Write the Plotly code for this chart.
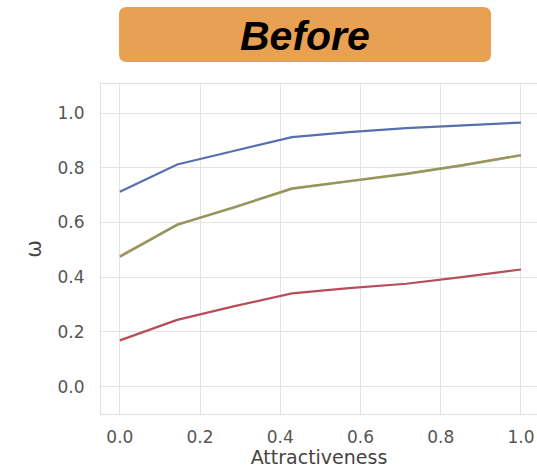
import plotly.graph_objects as go

# Attractiveness sampled on eight evenly spaced levels
attractiveness = [0.0, 0.143, 0.286, 0.429, 0.571, 0.714, 0.857, 1.0]

# omega per group
omega_blue = [0.712, 0.812, 0.862, 0.912, 0.930, 0.945, 0.955, 0.965]
omega_orange = [0.476, 0.592, 0.656, 0.724, 0.751, 0.778, 0.810, 0.846]
omega_green = [0.474, 0.591, 0.655, 0.723, 0.750, 0.777, 0.809, 0.845]
omega_red = [0.169, 0.244, 0.294, 0.341, 0.360, 0.376, 0.401, 0.428]

x_ticks = [0.0, 0.2, 0.4, 0.6, 0.8, 1.0]
y_ticks = [0.0, 0.2, 0.4, 0.6, 0.8, 1.0]

W, H = 537, 468
L, R, T, B = 101, 0, 84, 54
pw, ph = W - L - R, H - T - B


def px_to_paper(px, py):
    return (px - L) / pw, (H - B - py) / ph


fig = go.Figure()

series = [
    (omega_red, "#B84D5A", 1.0, 2.2),
    (omega_orange, "#DD8452", 1.0, 2.4),
    (omega_green, "#55A868", 0.55, 2.4),
    (omega_blue, "#5570B0", 1.0, 2.2),
]
for ys, color, op, w in series:
    fig.add_trace(go.Scatter(
        x=attractiveness, y=ys, mode="lines",
        line=dict(color=color, width=w), opacity=op,
        showlegend=False, hoverinfo="skip",
    ))

# rounded title banner
x0, y0 = px_to_paper(119, 62)
x1, y1 = px_to_paper(491, 7)
rx, ry = 8 / pw, 8 / ph
path = (
    f"M {x0 + rx},{y0} L {x1 - rx},{y0} Q {x1},{y0} {x1},{y0 + ry} "
    f"L {x1},{y1 - ry} Q {x1},{y1} {x1 - rx},{y1} "
    f"L {x0 + rx},{y1} Q {x0},{y1} {x0},{y1 - ry} "
    f"L {x0},{y0 + ry} Q {x0},{y0} {x0 + rx},{y0} Z"
)
fig.add_shape(type="path", path=path, xref="paper", yref="paper",
              fillcolor="#E8A052", line=dict(width=0), layer="above")

tx, ty = px_to_paper(305, 36)
fig.add_annotation(
    x=tx, y=ty, xref="paper", yref="paper", text="<b><i>Before</i></b>",
    showarrow=False, xanchor="center", yanchor="middle",
    font=dict(family="Liberation Sans", size=41, color="#000000"),
)

axis_common = dict(
    showgrid=True, gridcolor="#e4e4e4", gridwidth=1,
    showline=True, linecolor="#e0e0e0", linewidth=1, mirror=True,
    zeroline=False, ticks="",
    tickfont=dict(family="DejaVu Sans", size=17, color="#555555"),
)

fig.update_layout(
    width=W, height=H,
    margin=dict(l=L, r=R, t=T, b=B),
    paper_bgcolor="white", plot_bgcolor="white",
    xaxis=dict(
        range=[-0.047, 1.04], tickvals=x_ticks,
        ticktext=[f"{v:.1f}" for v in x_ticks],
        title=dict(text="Attractiveness", standoff=5,
                   font=dict(family="DejaVu Sans", size=19, color="#444444")),
        ticklabelstandoff=8,
        **axis_common,
    ),
    yaxis=dict(
        range=[-0.1, 1.106], tickvals=y_ticks,
        ticktext=[f"{v:.1f}" for v in y_ticks],
        title=dict(text="ω", standoff=10,
                   font=dict(family="DejaVu Sans", size=21, color="#444444")),
        ticklabelstandoff=12,
        **axis_common,
    ),
)

fig.write_html("out.html")
